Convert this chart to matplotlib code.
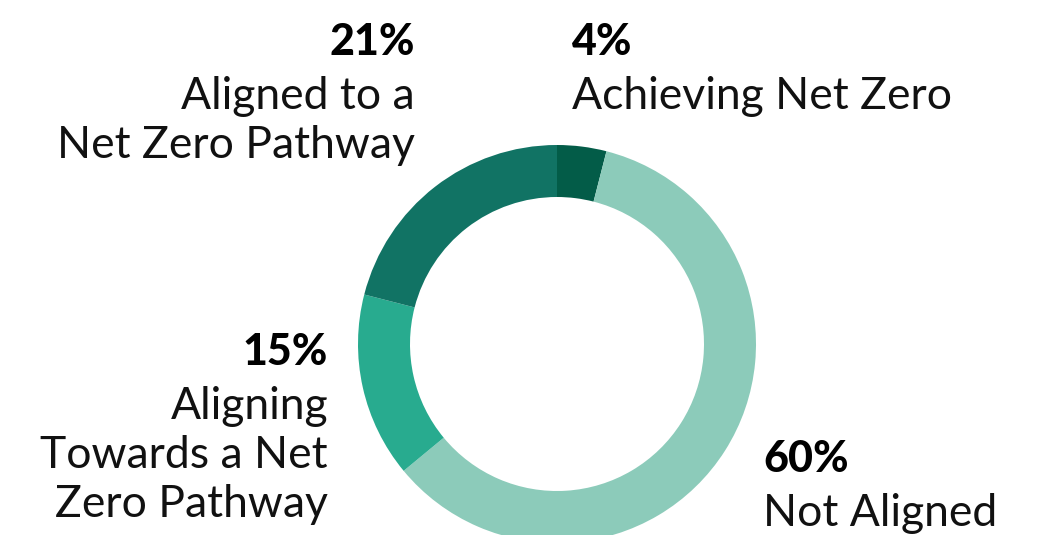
import matplotlib
matplotlib.use("Agg")
import matplotlib.pyplot as plt

# Share of portfolio by net zero alignment category (clockwise from top)
categories = [["Achieving Net Zero"],
              ["Not Aligned"],
              ["Aligning", "Towards a Net", "Zero Pathway"],
              ["Aligned to a", "Net Zero Pathway"]]
shares = [4, 60, 15, 21]
colors = ["#035c48", "#8ccbba", "#28ab8f", "#117364"]

W, H = 1060, 535

fig = plt.figure(figsize=(W / 100, H / 100), dpi=100)
ax = fig.add_axes([0, 0, 1, 1])

cx, cy, r_out, r_in = 557, H - 344, 199, 147
ax.pie(shares, colors=colors, startangle=90, counterclock=False,
       center=(cx, cy), radius=r_out, frame=True,
       wedgeprops=dict(width=r_out - r_in, linewidth=0))
ax.set_xlim(0, W)
ax.set_ylim(0, H)
ax.set_aspect("equal")
ax.axis("off")

# label anchors: (x, baseline of the percentage from top, alignment)
label_pos = [(572, 55, "left"), (763, 472, "left"), (328, 365, "right"), (415, 55, "right")]

num_font = dict(family="Lato", weight="black", size=31)
txt_font = dict(family="Lato", weight="normal", size=32)

for lines, val, (x, y, ha) in zip(categories, shares, label_pos):
    ax.text(x, H - y, f"{val}%", ha=ha, va="baseline", color="black", **num_font)
    for i, line in enumerate(lines):
        ax.text(x, H - (y + 54 + 49 * i), line, ha=ha, va="baseline",
                color="#111111", **txt_font)

fig.savefig("out.png", dpi=100)
